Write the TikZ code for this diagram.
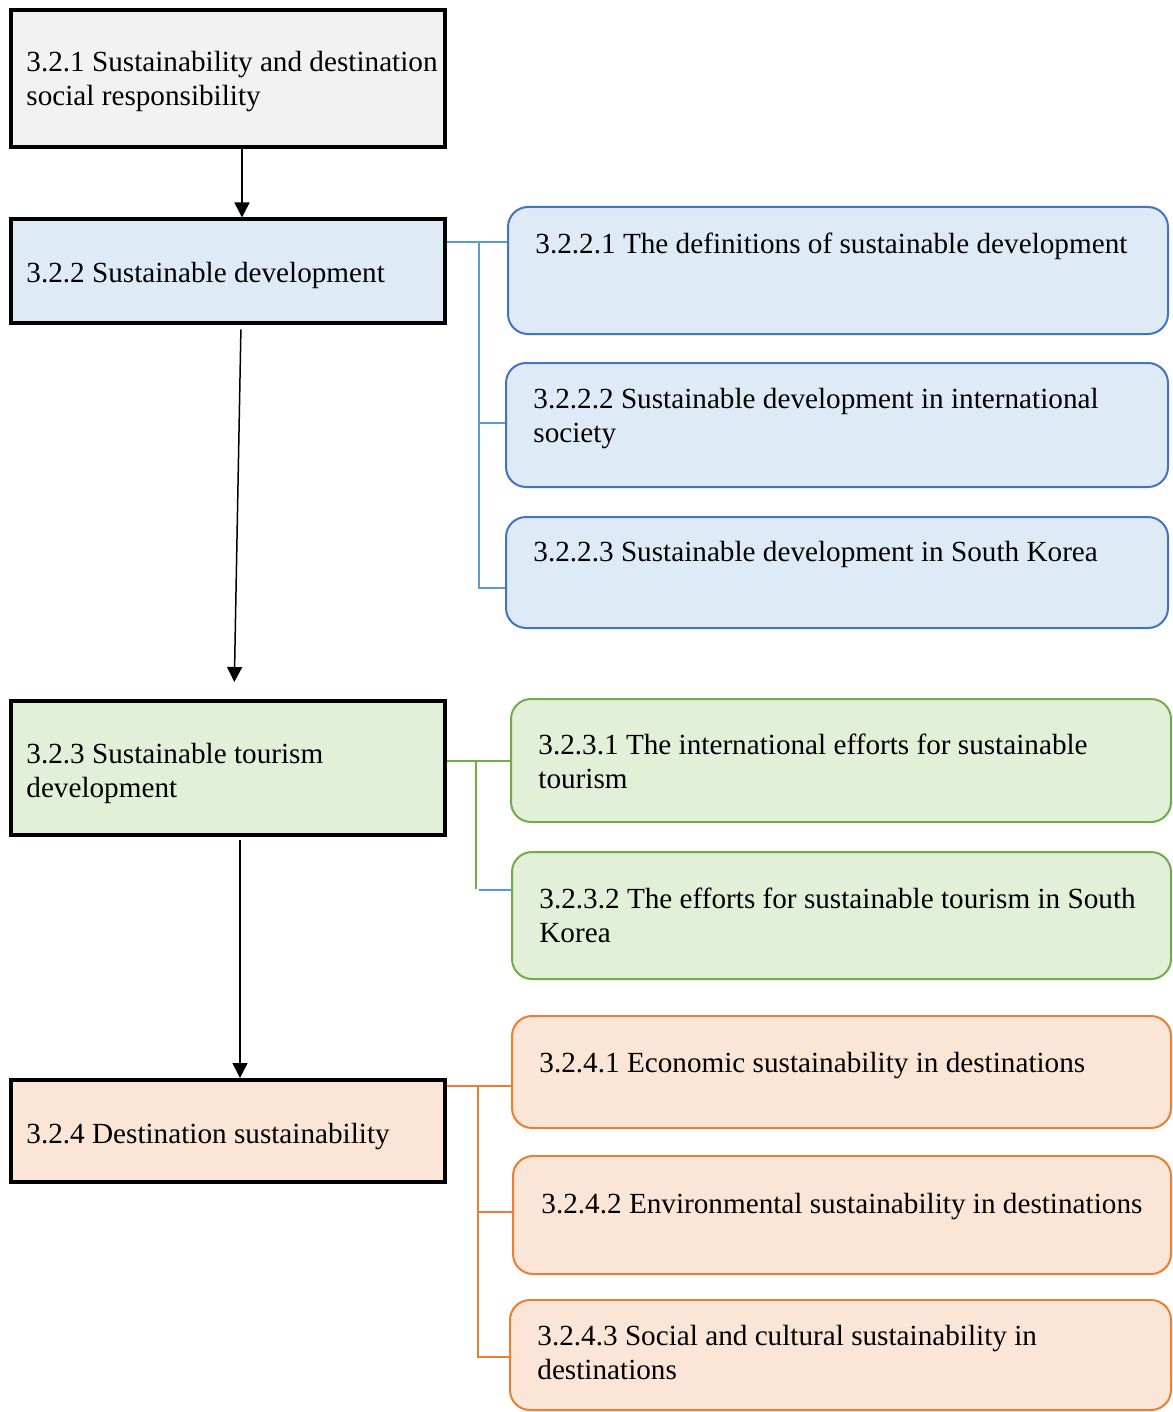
\documentclass[tikz,border=0pt]{standalone}
\usepackage{fontspec}
\setmainfont{Liberation Serif}
\usetikzlibrary{arrows.meta,fit}

\definecolor{grayfill}{HTML}{F2F2F2}
\definecolor{bluefill}{HTML}{DEEBF7}
\definecolor{greenfill}{HTML}{E2F0D9}
\definecolor{orangefill}{HTML}{FBE5D6}
\definecolor{blueedge}{HTML}{4472C4}
\definecolor{greenedge}{HTML}{70AD47}
\definecolor{orangeedge}{HTML}{ED7D31}
\definecolor{blueline}{HTML}{5B9BD5}

\begin{document}
\begin{tikzpicture}[x=0.5pt,y=-0.5pt,
  mainbox/.style={draw=black, line width=2pt, inner sep=0pt},
  subbox/.style={line width=1pt, rounded corners=10pt, inner sep=0pt},
  % multi-line texts are placed by the baseline of their last line
  txt/.style={anchor=base west, align=left, inner sep=0pt,
              font=\fontsize{14.6}{17}\selectfont},
  arr/.style={-{Triangle[width=7.5pt,length=7.5pt]}, line width=0.75pt},
  conn/.style={line width=0.6pt}]
\useasboundingbox (0,0) rectangle (1172,1412);

% main chapter sections (left column)
\node[mainbox, fill=grayfill,   fit={(11,10)(445,147)}]     (b1) {};
\node[mainbox, fill=bluefill,   fit={(11,219.5)(445,322.5)}] (b2) {};
\node[mainbox, fill=greenfill,  fit={(11,701)(445,835)}]     (b3) {};
\node[mainbox, fill=orangefill, fit={(11,1080)(445,1182)}]   (b4) {};

% subsections (right column)
\node[subbox, draw=blueedge, fill=bluefill, fit={(508,207)(1168,334)}] (r1) {};
\node[subbox, draw=blueedge, fill=bluefill, fit={(506,363)(1168,487)}] (r2) {};
\node[subbox, draw=blueedge, fill=bluefill, fit={(506,517)(1168,628)}] (r3) {};

\node[subbox, draw=greenedge, fill=greenfill, fit={(511,699)(1171,822)}] (g1) {};
\node[subbox, draw=greenedge, fill=greenfill, fit={(512,852)(1171,979)}] (g2) {};

\node[subbox, draw=orangeedge, fill=orangefill, fit={(512,1016)(1171,1128)}] (o1) {};
\node[subbox, draw=orangeedge, fill=orangefill, fit={(513,1156)(1171,1274)}] (o2) {};
\node[subbox, draw=orangeedge, fill=orangefill, fit={(510,1300)(1171,1410)}] (o3) {};

% box texts
\node[txt] (t1) at (26,106)  {3.2.1 Sustainability and destination\\social responsibility};
\node[txt] (t2) at (26,282) {3.2.2 Sustainable development};
\node[txt] (t3) at (26,797) {3.2.3 Sustainable tourism\\development};
\node[txt] (t4) at (26,1143) {3.2.4 Destination sustainability};

\node[txt] (u1) at (535,253) {3.2.2.1 The definitions of sustainable development};
\node[txt] (u2) at (533,442) {3.2.2.2 Sustainable development in international\\society};
\node[txt] (u3) at (533,561) {3.2.2.3 Sustainable development in South Korea};

\node[txt] (v1) at (538,788) {3.2.3.1 The international efforts for sustainable\\tourism};
\node[txt] (v2) at (539,942) {3.2.3.2 The efforts for sustainable tourism in South\\Korea};

\node[txt] (w1) at (539,1072) {3.2.4.1 Economic sustainability in destinations};
\node[txt] (w2) at (541,1213) {3.2.4.2 Environmental sustainability in destinations};
\node[txt] (w3) at (537,1379) {3.2.4.3 Social and cultural sustainability in\\destinations};

% flow between main sections
\coordinate (a1) at (242,0);
\coordinate (a2s) at (241,0);
\coordinate (a2e) at (234,0);
\coordinate (a3) at (240,0);
\draw[arr] (b1.south -| a1) -- (b2.north -| a1);
\draw[arr, shorten <=2.5pt, shorten >=8.5pt] (b2.south -| a2s) -- (b3.north -| a2e);
\draw[arr, shorten <=1.5pt] (b3.south -| a3) -- (b4.north -| a3);

% tree links: sustainable development
\coordinate (jb0) at (479,242);
\coordinate (jb1) at (479,423);
\coordinate (jb2) at (479,588);
\draw[conn, blueline] (b2.east |- jb0) -- (r1.west |- jb0);
\draw[conn, blueline] (jb0) -- (jb2) -- (r3.west |- jb2);
\draw[conn, blueline] (jb1) -- (r2.west |- jb1);

% tree links: sustainable tourism development
\coordinate (jg0) at (476,761);
\coordinate (jg1) at (476,889);
\coordinate (jg2) at (479,890);
\draw[conn, greenedge] (b3.east |- jg0) -- (g1.west |- jg0);
\draw[conn, greenedge] (jg0) -- (jg1);
\draw[conn, blueline] (jg2) -- (g2.west |- jg2);

% tree links: destination sustainability
\coordinate (jo0) at (478,1086);
\coordinate (jo1) at (478,1212);
\coordinate (jo2) at (478,1357);
\draw[conn, orangeedge] (b4.east |- jo0) -- (o1.west |- jo0);
\draw[conn, orangeedge] (jo0) -- (jo2) -- (o3.west |- jo2);
\draw[conn, orangeedge] (jo1) -- (o2.west |- jo1);
\end{tikzpicture}
\end{document}
